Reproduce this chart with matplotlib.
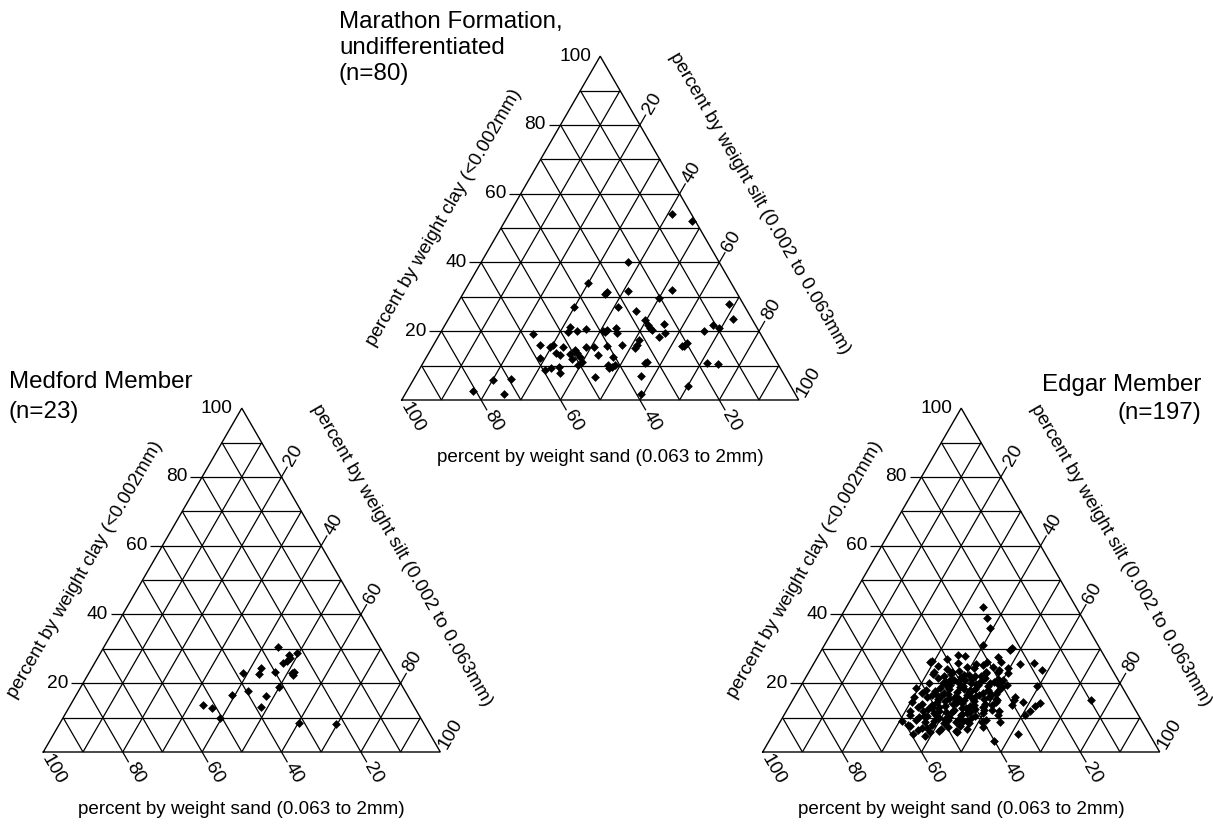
import numpy as np
import matplotlib.pyplot as plt

plt.rcParams['font.family'] = ['Liberation Sans', 'DejaVu Sans']

SQ = np.sqrt(3) / 2

# samples as (clay %, sand %); silt is the remainder to 100
marathon_clay = [54, 52, 40, 34, 31.5, 30.7, 31.8, 32, 29.6, 27, 27, 26, 28, 23.6, 23.2,
                 21.8, 20.9, 22.1, 21.8, 21, 20.2, 19.2, 21.3, 19.9, 20.1, 20.6, 20.2, 20.4,
                 20.9, 19.6, 20.4, 18.4, 16, 16, 15.3, 13.8, 13.1, 13.4, 14.5, 13.8, 11.8,
                 12.6, 15.5, 15.3, 15.7, 12.6, 8.7, 9.2, 9.5, 7.8, 10.2, 11.1, 6.8, 10.2,
                 10.2, 5.8, 6.1, 2.7, 1.7, 17.5, 16, 15, 15.7, 16.5, 15.6, 9.7, 10.7, 10.7,
                 10.4, 7, 4.2, 1.7, 12.1, 9.2, 19.9, 13.1, 15.4, 16, 19.5, 11]
marathon_sand = [5, 1, 23, 36, 32.5, 33.4, 27, 16, 20.3, 43, 32, 28, 3.6, 4.7, 27,
                 27, 27.1, 23, 10.8, 9.5, 13.7, 57.3, 46.9, 48.1, 45.9, 43.3, 39.1, 38.2,
                 35.5, 36, 26.8, 25.9, 57.2, 53.8, 55, 54.2, 53.6, 50.9, 49.1, 49, 51.3,
                 48.8, 45.8, 44, 40.5, 40.4, 59.5, 57.9, 55.6, 56.2, 50.4, 49.1, 47.9, 42.9,
                 41.2, 74, 69.5, 80.6, 73.5, 31.6, 32.8, 33.7, 21.6, 20, 21.1, 42.3, 33.4, 17.8,
                 15.1, 36.2, 25.7, 38.9, 59.1, 43.2, 38.9, 44, 51.7, 36.5, 23.9, 32.6]

medford_clay = [30.6, 28.2, 27.3, 26.6, 25.8, 28.9, 24.3, 22.6, 22.9, 23.4, 22.9, 23.4,
                19.0, 17.7, 16.6, 16.3, 13.2, 13.7, 12.7, 9.8, 8.5, 8.1, 22.3]
medford_sand = [25.5, 24.0, 24.2, 25.4, 26.6, 21.6, 33.0, 34.4, 38.2, 29.9, 26.0, 25.2,
                31.1, 39.5, 44.2, 35.8, 38.6, 53.0, 51.2, 50.6, 31.3, 22.3, 26.0]

edgar_clay = [
    # scattered samples
    42.1, 38.9, 36.0, 31.1, 30.2, 26.0, 23.9, 19.3, 15.1, 14.6, 13.4, 11.9, 10.8, 5.1,
    3.3, 7.4, 5.7, 8.9, 4.7, 5.1, 7.9, 29.7, 25.6, 22.9, 19.5, 15.1, 10.8, 8.8, 28.2,
    27.9, 26.3, 23.4, 27.7, 14.2, 13.7, 16.1, 26.3, 24.3, 23.4, 20.9, 19.0, 15.1,
    # main cluster
    26.5, 25.1, 24.0, 26.0, 24.8, 23.5, 25.6, 24.3, 23.2, 26.2, 24.6, 23.8, 25.3, 23.4,
    22.6, 21.4, 20.1, 22.0, 19.6, 21.1, 22.8, 20.4, 19.3, 21.7, 22.5, 20.0, 21.2, 19.5,
    22.2, 20.7, 19.1, 21.6, 22.9, 20.3, 19.8, 21.3, 20.9, 19.9, 22.3, 21.0, 20.5, 19.4,
    22.1, 20.2,
    18.7, 17.2, 15.9, 18.1, 16.5, 15.3, 17.8, 16.2, 18.6, 15.6, 17.0, 18.3, 16.0, 17.5,
    15.2, 18.8, 16.7, 15.8, 17.9, 16.3, 18.4, 15.5, 17.3, 16.1, 18.0, 15.4, 16.9, 17.6,
    16.4, 17.1, 15.7, 18.2, 16.6, 17.4, 15.1, 16.8,
    14.6, 13.1, 11.8, 14.0, 12.4, 11.3, 13.7, 12.0, 14.4, 11.6, 13.3, 14.8, 12.2, 13.9,
    11.1, 12.8, 14.2, 11.7, 13.5, 12.5, 14.7, 11.4, 13.0, 14.1, 12.1, 13.6, 11.9, 14.5,
    12.7, 13.2, 11.5, 14.3, 12.9, 13.8, 12.3, 11.2,
    10.8, 9.3, 10.1, 8.6, 10.5, 9.0, 10.9, 8.4, 9.7, 10.3, 8.8, 9.5, 10.7, 8.3, 9.9,
    10.4, 8.7, 9.2, 10.6, 9.4, 8.9, 10.0,
    7.6, 6.4, 7.1, 5.9, 7.8, 6.7, 7.3, 6.1, 7.5, 6.8, 6.2, 7.0,
    12.0, 16.0, 20.0, 9.0, 27.0]
edgar_sand = [
    23.5, 24.1, 24.7, 28.9, 22.2, 18.7, 17.8, 21.3, 9.8, 27.1, 24.7, 26.7, 28.5, 33.1,
    40.0, 40.7, 48.3, 44.2, 56.8, 59.6, 59.4, 22.9, 22.4, 26.7, 28.8, 29.1, 35.3, 35.8, 36.6,
    35.0, 44.7, 45.1, 26.8, 23.1, 30.4, 28.4, 26.7, 26.0, 29.0, 29.0, 30.3, 33.5,
    44.0, 43.2, 41.5, 37.8, 36.2, 38.9, 33.4, 34.7, 32.1, 30.5, 29.6, 28.5, 31.9, 40.7,
    45.8, 45.2, 44.6, 43.4, 42.9, 42.0, 41.1, 40.5, 39.8, 39.2, 38.0, 37.6, 36.8, 35.9,
    35.3, 34.6, 33.8, 33.1, 32.4, 31.7, 30.9, 30.2, 38.5, 36.3, 36.9, 41.4, 43.7, 44.1,
    34.0, 32.6,
    52.0, 51.3, 50.6, 49.8, 49.0, 48.2, 47.6, 46.9, 46.1, 45.3, 44.7, 43.8, 43.1, 42.4,
    41.6, 41.0, 40.3, 39.5, 38.8, 38.0, 37.3, 36.5, 35.8, 35.0, 34.3, 33.5, 32.8, 31.9,
    47.7, 45.9, 44.0, 40.2, 37.1, 39.1, 42.7, 34.1,
    55.2, 54.4, 53.7, 52.9, 52.1, 51.2, 50.5, 49.7, 48.9, 48.0, 47.4, 46.6, 45.8, 45.0,
    44.3, 43.5, 42.7, 41.9, 41.1, 40.2, 39.4, 38.7, 37.9, 37.0, 36.3, 35.5, 34.6, 33.9,
    50.9, 49.1, 46.5, 44.1, 42.3, 39.9, 38.2, 43.0,
    57.6, 56.8, 55.5, 54.7, 53.3, 52.4, 51.0, 50.2, 49.3, 47.9, 47.0, 45.7, 44.6, 43.8,
    42.5, 41.3, 40.4, 39.1, 54.1, 48.6, 45.2, 50.6,
    59.1, 57.8, 56.2, 54.9, 53.4, 51.8, 49.7, 48.3, 46.6, 45.1, 52.6, 55.0,
    57.0, 54.0, 48.0, 60.5, 40.0]

ticks = [20, 40, 60, 80, 100]
axis_clay = 'percent by weight clay (<0.002mm)'
axis_silt = 'percent by weight silt (0.002 to 0.063mm)'
axis_sand = 'percent by weight sand (0.063 to 2mm)'

W, H = 1213, 824


def to_xy(clay, sand):
    clay = np.asarray(clay, float)
    sand = np.asarray(sand, float)
    silt = 100 - clay - sand
    return silt + clay / 2, clay * SQ


def ternary(fig, px0, py0, clay, sand):
    """triangle whose bottom-left corner sits at pixel (px0, py0)"""
    side = 397
    ax = fig.add_axes([px0 / W, 1 - py0 / H, side / W, side * SQ / H])
    ax.set_xlim(0, 100)
    ax.set_ylim(0, 100 * SQ)
    ax.axis('off')
    kw = dict(color='black', lw=0.9, clip_on=False, solid_capstyle='butt')
    for v in range(10, 100, 10):
        ax.plot(*to_xy([v, v], [100 - v, 0]), **kw)
        ax.plot(*to_xy([0, 100 - v], [v, v]), **kw)
        ax.plot(*to_xy([0, 100 - v], [100 - v, 0]), **kw)
    ax.plot(*to_xy([0, 0, 100, 0], [100, 0, 0, 100]), color='black', lw=1.0,
            clip_on=False, solid_joinstyle='miter')

    fs = 13.8
    tl, gap = 3.0, 6.2
    for t in ticks:
        # clay, left edge
        x, y = t / 2, t * SQ
        if t < 100:
            ax.plot([x, x - tl], [y, y], **kw)
            ax.text(x - tl - 0.7, y, str(t), ha='right', va='center', fontsize=fs)
        else:
            ax.text(x - 2.3, y, str(t), ha='right', va='center', fontsize=fs)
        # silt, right edge
        x, y = t + (100 - t) / 2, (100 - t) * SQ
        dx, dy = 0.5, SQ
        if t < 100:
            ax.plot([x, x + tl * dx], [y, y + tl * dy], **kw)
            g = gap
        else:
            g = 5.2
        ax.text(x + g * dx, y + g * dy, str(t), ha='center', va='center',
                rotation=60, rotation_mode='anchor', fontsize=fs)
        # sand, bottom edge
        x, y = 100 - t, 0
        dx, dy = 0.5, -SQ
        if t < 100:
            ax.plot([x, x + tl * dx], [y, y + tl * dy], **kw)
            g = gap
        else:
            g = 5.2
        ax.text(x + g * dx, y + g * dy, str(t), ha='center', va='center',
                rotation=-60, rotation_mode='anchor', fontsize=fs)

    afs = 13.6
    mx, my = 25, 50 * SQ
    ax.text(mx - 13.8 * SQ - 5 * 0.5, my + 13.8 * 0.5 - 5 * SQ, axis_clay,
            ha='center', va='center', rotation=60, rotation_mode='anchor', fontsize=afs)
    mx, my = 75, 50 * SQ
    ax.text(mx + 16.3 * SQ + 2.3 * 0.5, my + 16.3 * 0.5 - 2.3 * SQ, axis_silt,
            ha='center', va='center', rotation=-60, rotation_mode='anchor', fontsize=afs)
    ax.text(50, -14.6, axis_sand, ha='center', va='center', fontsize=afs)

    x, y = to_xy(clay, sand)
    ax.scatter(x, y, marker='D', s=20, color='black', linewidths=0, clip_on=False, zorder=3)
    return ax


def title(fig, x, baselines, lines, ha='left'):
    for y, s in zip(baselines, lines):
        fig.text(x / W, 1 - y / H, s, ha=ha, va='baseline', fontsize=17.4)


fig = plt.figure(figsize=(W / 100, H / 100), dpi=100)

ternary(fig, 401.7, 400, marathon_clay, marathon_sand)
ternary(fig, 43.3, 752, medford_clay, medford_sand)
ternary(fig, 762.7, 752, edgar_clay, edgar_sand)

title(fig, 339, [28, 54, 80], ['Marathon Formation,', 'undifferentiated', '(n=80)'])
title(fig, 9, [388, 418], ['Medford Member', '(n=23)'])
title(fig, 1201, [391, 419], ['Edgar Member', '(n=197)'], ha='right')

fig.savefig('out.png', dpi=100)
